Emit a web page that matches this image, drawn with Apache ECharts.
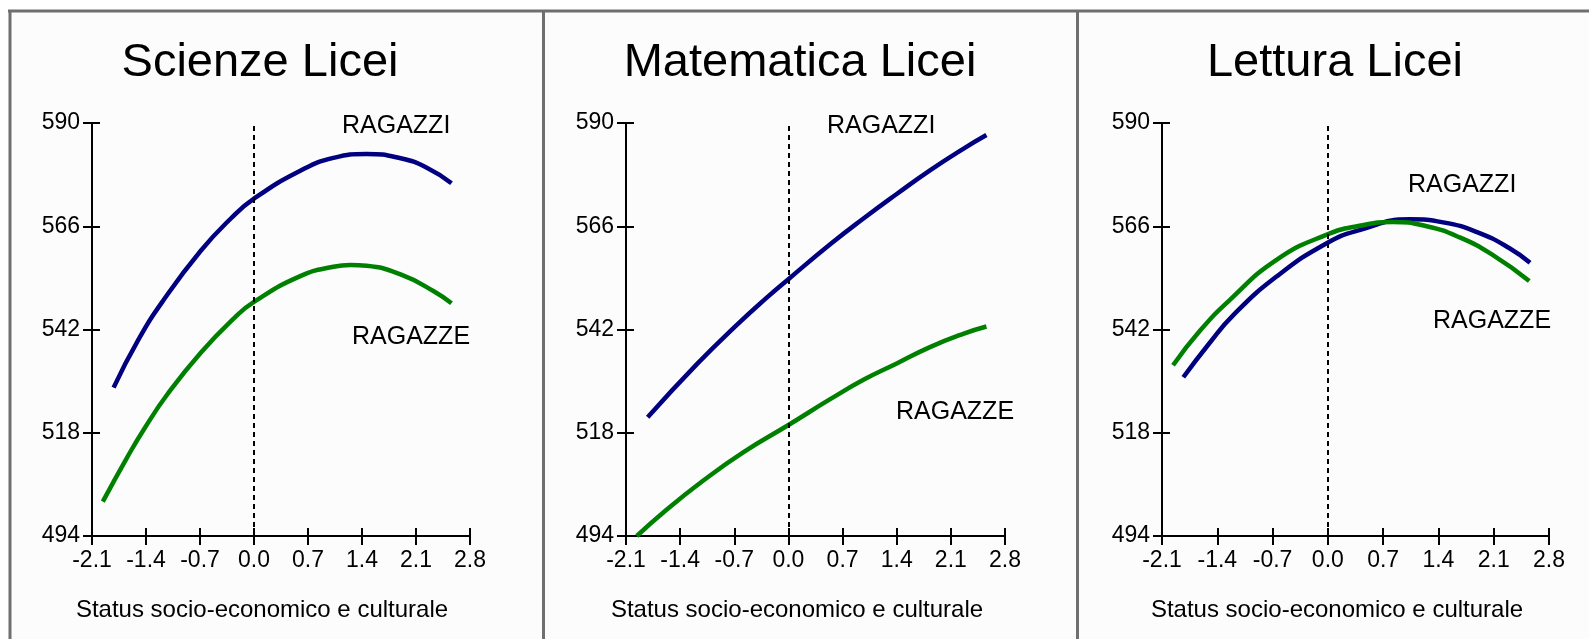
<!DOCTYPE html>
<html>
<head>
<meta charset="utf-8">
<script src="https://cdn.jsdelivr.net/npm/echarts@6/dist/echarts.min.js"></script>
<style>
html,body{margin:0;padding:0;background:#fff;}
#chart{width:1589px;height:639px;}
</style>
</head>
<body>
<div id="chart"></div>
<script>
// ---- data ----
const panelTitles = ['Scienze Licei', 'Matematica Licei', 'Lettura Licei'];
const xAxisName = 'Status socio-economico e culturale';
const xTickLabels = ['-2.1', '-1.4', '-0.7', '0.0', '0.7', '1.4', '2.1', '2.8'];
const yTickLabels = ['494', '518', '542', '566', '590'];
const seriesNames = ['RAGAZZI', 'RAGAZZE'];

const scienzeRagazzi = [[-1.82,528.5],[-1.50,539.6],[-1.17,548.9],[-0.69,560.3],[-0.30,567.8],[0,572.4],[0.60,578.9],[1.03,581.9],[1.46,582.8],[1.90,581.8],[2.24,579.6],[2.56,576.0]];
const scienzeRagazze = [[-1.96,502.0],[-1.64,512.4],[-1.42,519.0],[-1.12,527.0],[-0.69,536.6],[-0.26,544.6],[0,548.4],[0.60,554.4],[1.03,556.6],[1.25,557.0],[1.46,556.8],[1.90,554.8],[2.33,550.9],[2.56,548.1]];
const matematicaRagazzi = [[-1.82,521.6],[-1.18,534.0],[-0.67,543.0],[-0.28,549.4],[0,553.7],[0.54,561.8],[0.97,567.8],[1.40,573.5],[1.83,579.0],[2.26,584.0],[2.56,587.2]];
const matematicaRagazze = [[-1.96,494.0],[-1.61,499.6],[-1.10,506.9],[-0.58,513.5],[0,519.8],[0.54,525.8],[0.97,530.3],[1.40,534.1],[1.83,537.9],[2.26,541.0],[2.56,542.7]];
const letturaRagazzi = [[-1.83,530.9],[-1.50,538.8],[-1.20,545.3],[-0.65,554.3],[-0.02,562.0],[0.40,565.1],[1.04,567.6],[1.46,566.9],[1.88,564.7],[2.30,560.9],[2.56,557.5]];
const letturaRagazze = [[-1.96,533.7],[-1.62,541.7],[-1.24,548.9],[-0.65,558.2],[-0.02,564.0],[0.40,566.1],[0.82,567.0],[1.25,566.0],[1.67,563.4],[2.09,559.3],[2.55,553.3]];

const panelData = [
  [scienzeRagazzi, scienzeRagazze],
  [matematicaRagazzi, matematicaRagazze],
  [letturaRagazzi, letturaRagazze]
];

// ---- layout ----
const grids = [
  {left: 92, top: 123, width: 378, height: 413},
  {left: 626, top: 123, width: 379, height: 413},
  {left: 1162, top: 123, width: 387, height: 413}
];
const titlePos = [[260, 63], [800, 63], [1335, 63]];
const namePos = [[262, 610], [797, 610], [1337, 610]];
const boysLabelPos = [[342, 126], [827, 126], [1408, 185]];
const girlsLabelPos = [[352, 337], [896, 412], [1433, 321]];
const colors = ['#000080', '#008000'];
const FONT = '"Liberation Sans", Arial, sans-serif';

const xMin = parseFloat(xTickLabels[0]), xMax = parseFloat(xTickLabels[xTickLabels.length - 1]);
const yMin = +yTickLabels[0], yMax = +yTickLabels[yTickLabels.length - 1];
const xInt = 0.7, yInt = 24;

const fmtX = v => (Math.abs(v) < 1e-9 ? 0 : v).toFixed(1);

const xAxes = [], yAxes = [], series = [], graphics = [];
grids.forEach((g, i) => {
  xAxes.push({
    type: 'value', gridIndex: i, min: xMin, max: xMax, interval: xInt, position: 'bottom',
    axisLine: {show: true, onZero: false, lineStyle: {color: '#000', width: 2}},
    axisTick: {show: true, inside: false, length: 9, lineStyle: {color: '#000', width: 2}},
    axisLabel: {show: true, margin: 13, color: '#000', fontSize: 23, fontFamily: FONT, formatter: fmtX},
    splitLine: {show: false}
  });
  xAxes.push({
    type: 'value', gridIndex: i, min: xMin, max: xMax, interval: xInt, position: 'bottom', offset: 0,
    axisLine: {show: false, onZero: false},
    axisTick: {show: true, inside: true, length: 8, lineStyle: {color: '#000', width: 2}},
    axisLabel: {show: false}, splitLine: {show: false}
  });
  yAxes.push({
    type: 'value', gridIndex: i, min: yMin, max: yMax, interval: yInt, position: 'left',
    axisLine: {show: true, onZero: false, lineStyle: {color: '#000', width: 2}},
    axisTick: {show: true, inside: false, length: 9, lineStyle: {color: '#000', width: 2}},
    axisLabel: {show: true, margin: 12, color: '#000', fontSize: 23, fontFamily: FONT},
    splitLine: {show: false}
  });
  yAxes.push({
    type: 'value', gridIndex: i, min: yMin, max: yMax, interval: yInt, position: 'left', offset: 0,
    axisLine: {show: false, onZero: false},
    axisTick: {show: true, inside: true, length: 8, lineStyle: {color: '#000', width: 2}},
    axisLabel: {show: false}, splitLine: {show: false}
  });

  panelData[i].forEach((d, k) => {
    const s = {
      type: 'line', name: seriesNames[k] + ' ' + i,
      xAxisIndex: i * 2, yAxisIndex: i * 2,
      data: d, smooth: 0.5, showSymbol: false, symbol: 'none',
      lineStyle: {color: colors[k], width: 4.5},
      z: k === 0 ? 3 : 4, animation: false
    };
    if (k === 0) {
      s.markLine = {
        silent: true, symbol: 'none', animation: false,
        label: {show: false},
        lineStyle: {color: '#000', type: [5, 4], width: 2},
        data: [{xAxis: 0}]
      };
    }
    series.push(s);
  });

  graphics.push({
    type: 'text', x: titlePos[i][0], y: titlePos[i][1],
    style: {text: panelTitles[i], font: '47px ' + FONT, fill: '#000', align: 'center', verticalAlign: 'middle'}
  });
  graphics.push({
    type: 'text', x: namePos[i][0], y: namePos[i][1],
    style: {text: xAxisName, font: '24px ' + FONT, fill: '#000', align: 'center', verticalAlign: 'middle'}
  });
  graphics.push({
    type: 'text', x: boysLabelPos[i][0], y: boysLabelPos[i][1], z: 10,
    style: {text: seriesNames[0], font: '25px ' + FONT, fill: '#000', align: 'left', verticalAlign: 'middle'}
  });
  graphics.push({
    type: 'text', x: girlsLabelPos[i][0], y: girlsLabelPos[i][1], z: 10,
    style: {text: seriesNames[1], font: '25px ' + FONT, fill: '#000', align: 'left', verticalAlign: 'middle'}
  });
});

// frame
const frameColor = '#6f6f6f';
graphics.unshift({type: 'rect', shape: {x: 9, y: 11, width: 1580, height: 628}, style: {fill: '#fcfcfc'}, z: -10, silent: true});
graphics.push({type: 'line', shape: {x1: 8, y1: 11, x2: 1589, y2: 11}, style: {stroke: frameColor, lineWidth: 3}, silent: true});
[10, 543.5, 1077.5].forEach(x => {
  graphics.push({type: 'line', shape: {x1: x, y1: 10, x2: x, y2: 639}, style: {stroke: frameColor, lineWidth: 3}, silent: true});
});

const chart = echarts.init(document.getElementById('chart'), null, {renderer: 'canvas'});
chart.setOption({
  backgroundColor: '#fff',
  animation: false,
  grid: grids,
  xAxis: xAxes,
  yAxis: yAxes,
  series: series,
  graphic: graphics
});
</script>
</body>
</html>
